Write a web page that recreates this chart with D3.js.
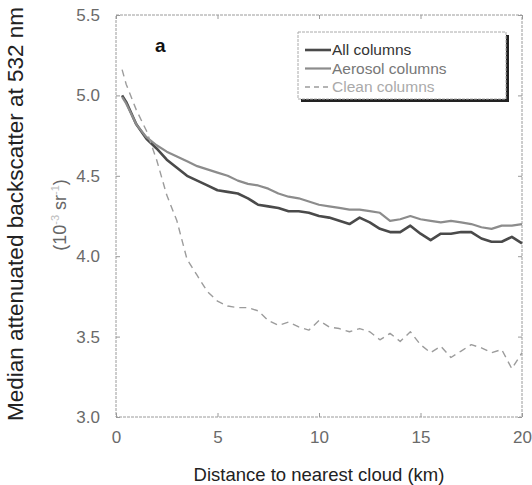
<!DOCTYPE html>
<html>
<head>
<meta charset="utf-8">
<script src="https://cdn.jsdelivr.net/npm/d3@7"></script>
<style>
  html, body { margin: 0; padding: 0; background: #fff; }
  svg { display: block; font-family: "Liberation Sans", Arial, Helvetica, sans-serif; }
</style>
</head>
<body>
<svg id="chart" width="532" height="485"></svg>
<script>
// ---- Data ----
const distance = [0.3, 0.5, 1, 1.5, 2, 2.5, 3, 3.5, 4, 4.5, 5, 5.5, 6, 6.5, 7, 7.5, 8, 8.5, 9, 9.5,
  10, 10.5, 11, 11.5, 12, 12.5, 13, 13.5, 14, 14.5, 15, 15.5, 16, 16.5, 17, 17.5, 18, 18.5, 19, 19.5, 20];
const allColumns = [5.00, 4.96, 4.82, 4.73, 4.67, 4.60, 4.55, 4.50, 4.47, 4.44, 4.41, 4.40, 4.39, 4.36, 4.32, 4.31, 4.30, 4.28, 4.28, 4.27,
  4.25, 4.24, 4.22, 4.20, 4.24, 4.21, 4.17, 4.15, 4.15, 4.19, 4.14, 4.10, 4.14, 4.14, 4.15, 4.15, 4.11, 4.09, 4.09, 4.12, 4.08];
const aerosolColumns = [4.99, 4.95, 4.82, 4.74, 4.69, 4.65, 4.62, 4.59, 4.56, 4.54, 4.52, 4.50, 4.47, 4.45, 4.44, 4.42, 4.39, 4.37, 4.36, 4.34,
  4.32, 4.31, 4.30, 4.29, 4.29, 4.28, 4.27, 4.22, 4.23, 4.25, 4.23, 4.22, 4.21, 4.22, 4.21, 4.20, 4.18, 4.17, 4.19, 4.19, 4.20];
const cleanColumns = [5.16, 5.07, 4.91, 4.78, 4.60, 4.38, 4.22, 3.98, 3.88, 3.78, 3.72, 3.69, 3.68, 3.68, 3.66, 3.60, 3.57, 3.59, 3.56, 3.54,
  3.60, 3.56, 3.55, 3.53, 3.55, 3.53, 3.48, 3.52, 3.47, 3.53, 3.45, 3.40, 3.44, 3.37, 3.41, 3.45, 3.43, 3.40, 3.42, 3.30, 3.40];
const seriesNames = ["All columns", "Aerosol columns", "Clean columns"];
const xTicks = [0, 5, 10, 15, 20];
const yTicks = [3.0, 3.5, 4.0, 4.5, 5.0, 5.5];

// ---- Layout ----
const svg = d3.select("#chart");
const mLeft = 116, mRight = 522, mTop = 15, mBottom = 417;

const x = d3.scaleLinear().domain([0, 20]).range([mLeft, mRight]);
const y = d3.scaleLinear().domain([3.0, 5.5]).range([mBottom, mTop]);

const frameColor = "#9a9a9a";

// frame
svg.append("rect")
  .attr("x", mLeft).attr("y", mTop)
  .attr("width", mRight - mLeft).attr("height", mBottom - mTop)
  .attr("fill", "none").attr("stroke", frameColor)
  .attr("stroke-width", 1).attr("stroke-dasharray", "3,1");

// axes (inward ticks, labels)
const xAxis = d3.axisBottom(x).tickValues(xTicks).tickSize(-4).tickPadding(14)
  .tickFormat(d3.format("d"));
svg.append("g").attr("transform", `translate(0,${mBottom})`).call(xAxis);
const yAxis = d3.axisLeft(y).tickValues(yTicks).tickSize(-4).tickPadding(16)
  .tickFormat(d3.format(".1f"));
svg.append("g").attr("transform", `translate(${mLeft},0)`).call(yAxis);
const xTop = d3.axisTop(x).tickValues(xTicks).tickSize(-4).tickFormat("");
svg.append("g").attr("transform", `translate(0,${mTop})`).call(xTop);
const yRight = d3.axisRight(y).tickValues(yTicks).tickSize(-4).tickFormat("");
svg.append("g").attr("transform", `translate(${mRight},0)`).call(yRight);

svg.selectAll(".domain").remove();
svg.selectAll(".tick line").attr("stroke", frameColor);
svg.selectAll(".tick text")
  .attr("fill", "#6a6a6a")
  .style("font-size", "17px")
  .style("font-family", "'Liberation Sans', Arial, sans-serif");

// axis titles
svg.append("text")
  .attr("x", (mLeft + mRight) / 2).attr("y", 481)
  .attr("text-anchor", "middle")
  .style("font-size", "18.5px").attr("fill", "#222")
  .text("Distance to nearest cloud (km)");

svg.append("text")
  .attr("transform", "translate(23,214) rotate(-90)")
  .attr("text-anchor", "middle")
  .style("font-size", "22.5px").attr("fill", "#222")
  .text("Median attenuated backscatter at 532 nm");

const unit = svg.append("text")
  .attr("transform", "translate(66,215) rotate(-90)")
  .attr("text-anchor", "middle")
  .style("font-size", "18px").attr("fill", "#666");
unit.append("tspan").text("(10");
unit.append("tspan").attr("dy", -7).style("font-size", "11px").attr("fill", "#bbb").text("-3");
unit.append("tspan").attr("dy", 7).text(" sr");
unit.append("tspan").attr("dy", -7).style("font-size", "11px").attr("fill", "#bbb").text("-1");
unit.append("tspan").attr("dy", 7).text(")");

// panel label
svg.append("text")
  .attr("x", 155).attr("y", 52)
  .style("font-size", "19px").style("font-weight", "bold").attr("fill", "#111")
  .text("a");

// lines
const line = d3.line()
  .x((d, i) => x(distance[i]))
  .y(d => y(d))
  .curve(d3.curveLinear);

const styles = [
  { data: allColumns, stroke: "#4a4a4a", width: 2.6, dash: null },
  { data: aerosolColumns, stroke: "#8c8c8c", width: 2.2, dash: null },
  { data: cleanColumns, stroke: "#9c9c9c", width: 1.4, dash: "7,5" }
];

styles.forEach(s => {
  svg.append("path")
    .datum(s.data)
    .attr("d", line)
    .attr("fill", "none")
    .attr("stroke", s.stroke)
    .attr("stroke-width", s.width)
    .attr("stroke-linejoin", "round")
    .attr("stroke-dasharray", s.dash);
});

// legend
const lg = svg.append("g");
const lgX = 298, lgY = 32, lgW = 208, lgH = 67;
lg.append("rect")
  .attr("x", lgX + 3).attr("y", lgY + 3).attr("width", lgW).attr("height", lgH)
  .attr("fill", "#222");
lg.append("rect")
  .attr("x", lgX).attr("y", lgY).attr("width", lgW).attr("height", lgH)
  .attr("fill", "#fff").attr("stroke", "#aaa").attr("stroke-width", 1)
  .attr("stroke-dasharray", "3,1");

const legendTextColors = ["#333", "#777", "#aaa"];
seriesNames.forEach((name, i) => {
  const ly = lgY + 18 + i * 18.5;
  lg.append("line")
    .attr("x1", lgX + 7).attr("x2", lgX + 33)
    .attr("y1", ly).attr("y2", ly)
    .attr("stroke", styles[i].stroke)
    .attr("stroke-width", styles[i].width)
    .attr("stroke-dasharray", i === 2 ? "5,4" : null);
  lg.append("text")
    .attr("x", lgX + 34).attr("y", ly + 5)
    .style("font-size", "15.5px").attr("fill", legendTextColors[i])
    .text(name);
});
</script>
</body>
</html>
